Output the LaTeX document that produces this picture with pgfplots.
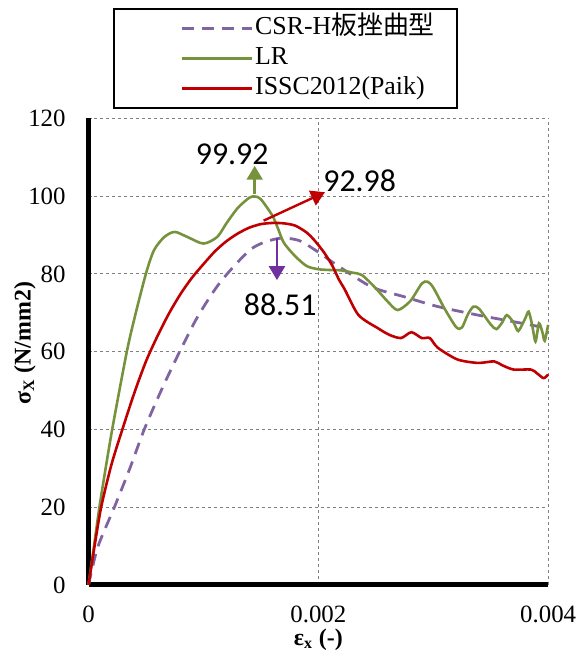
\documentclass[border=0pt]{standalone}
\usepackage{fontspec}
\setmainfont{Liberation Serif}
\newfontfamily\cjk{Noto Sans CJK JP}
\newfontfamily\annot{Carlito}
\usepackage{pgfplots}
\pgfplotsset{compat=1.18}
\usetikzlibrary{arrows.meta}
\definecolor{lrgreen}{RGB}{118,146,60}
\definecolor{isscred}{RGB}{192,0,0}
\definecolor{csrpurple}{RGB}{128,100,162}
\definecolor{arrowpurple}{RGB}{112,48,160}
\begin{document}
\begin{tikzpicture}
\begin{axis}[
  scale only axis, width=231pt, height=234.5pt,
  xmin=0, xmax=0.004, ymin=0, ymax=120,
  xtick={0,0.002,0.004}, ytick={0,20,40,60,80,100,120},
  scaled x ticks=false,
  xticklabel style={/pgf/number format/fixed,/pgf/number format/precision=3, yshift=-7pt},
  yticklabel style={xshift=-8pt},
  /pgf/number format/assume math mode=true,
  tick label style={font=\fontsize{12.5}{14}\selectfont},
  axis x line=bottom, axis y line=left,
  axis line style={-, line width=2.5pt, black},
  major tick length=0pt,
  grid=major,
  grid style={gray, line width=0.5pt, dash pattern=on 1.5pt off 1.5pt},
  xlabel={\bfseries ε\textsubscript{x} (-)},
  ylabel={\bfseries σ\textsubscript{X} (N/mm2)},
  label style={font=\fontsize{12}{14}\selectfont},
  xlabel style={at={(axis description cs:0.5,-0.117)}, anchor=center},
  ylabel style={at={(axis description cs:-0.1385,0.518)}, anchor=center, rotate=0},
  clip=false,
  legend cell align=left,
  legend style={at={(axis description cs:0.0541,1.2367)}, anchor=north west,
    draw=black, line width=1pt, inner xsep=1pt, inner ysep=2.5pt, row sep=0pt,
    font=\fontsize{13}{15}\selectfont,
    nodes={inner sep=1pt, text height=9.5pt, text depth=3.5pt}},
  legend image code/.code={\draw[white, line width=0.1pt, solid] (-33pt,0) -- (0pt,0); \draw[#1] (0pt,0) -- (35pt,0);},
]
\addplot[csrpurple, line width=1.4pt, dash pattern=on 6pt off 4pt, smooth, tension=0.45] coordinates {
(0,0) (0.00008,9.7) (0.000225,20) (0.00036,30) (0.000485,40) (0.00064,50.5)
(0.00079,59.8) (0.00095,69) (0.00115,78) (0.00142,86.5) (0.00165,89.1)
(0.00183,88.6) (0.002,85.6) (0.00214,82.7) (0.00246,76.7) (0.00275,74.1)
(0.00304,71.6) (0.00339,69.4) (0.0037,67.7) (0.004,66)
};
\addlegendentry{CSR-H{\cjk 板挫曲型}\hspace*{9pt}}
\addplot[lrgreen, line width=1.3pt, smooth, tension=0.45] coordinates {
(0,0) (0.00005,10.5) (0.0001,21) (0.0002,39) (0.00033,59.5) (0.0004,68.6)
(0.0005,80.1) (0.00057,86.1) (0.00066,89.5) (0.00075,90.8) (0.00086,89.5)
(0.001,87.8) (0.00112,89.5) (0.0012,93) (0.0013,97) (0.0014,99.6) (0.00145,99.9)
(0.0015,99.2) (0.0016,95) (0.00165,91.6) (0.0017,88) (0.0018,84.5) (0.0019,82)
(0.002,81.2) (0.0021,81) (0.0022,80.9) (0.0023,80.3) (0.00238,79.7)
(0.0025,76.3) (0.0026,73) (0.00269,70.7) (0.0028,73) (0.0029,77.5)
(0.00295,78) (0.003,76.5) (0.0031,71) (0.0032,66.3) (0.00325,66.2)
(0.0033,69.5) (0.00335,71.6) (0.0034,71) (0.0035,67) (0.00355,65.8)
(0.0036,67.5) (0.00364,69.4) (0.0037,67.5) (0.00374,65.3) (0.0038,68.5)
(0.00383,70.3) (0.00386,67) (0.00389,62.6) (0.00392,67.3) (0.00395,65)
(0.00397,62.8) (0.004,66.9)
};
\addlegendentry{LR}
\addplot[isscred, line width=1.3pt, smooth, tension=0.45] coordinates {
(0,0) (0.00005,9.5) (0.00011,20) (0.0002,31) (0.0003,40.5) (0.0004,49.5)
(0.0005,57.5) (0.0006,64) (0.0007,69.8) (0.0008,74.8) (0.0009,79)
(0.001,82.5) (0.0011,85.8) (0.0012,88.4) (0.0013,90.4) (0.0014,91.9)
(0.0015,92.8) (0.0016,93.1) (0.0017,93) (0.0018,92.4) (0.0019,90.6)
(0.00197,88.5) (0.00205,85.5) (0.00212,82.2) (0.00218,78.5) (0.00223,76)
(0.00235,69.4) (0.00252,66) (0.00262,64.3) (0.00272,63.5) (0.00281,65)
(0.0029,63.5) (0.00297,63.5) (0.00304,61) (0.00321,58) (0.00339,57.1)
(0.00353,57.5) (0.0036,56.5) (0.0037,55.4) (0.00385,55.4) (0.0039,54.5)
(0.00396,53.2) (0.004,54.1)
};
\addlegendentry{ISSC2012(Paik)}
% annotations
\draw[lrgreen, line width=1.2pt, -{Triangle[width=8pt,length=7pt]}] (axis cs:0.001446,100.6) -- (axis cs:0.001446,107.8);
\draw[isscred, line width=1.2pt, -{Triangle[width=8pt,length=7pt]}] (axis cs:0.001524,93.7) -- (axis cs:0.002058,101);
\draw[arrowpurple, line width=1.2pt, -{Triangle[width=8pt,length=7pt]}] (axis cs:0.00164,89.2) -- (axis cs:0.00164,78.4);
\node[font=\annot\fontsize{16}{18}\selectfont] at (axis cs:0.00125,110.8) {99.92};
\node[font=\annot\fontsize{16}{18}\selectfont] at (axis cs:0.00236,104) {92.98};
\node[font=\annot\fontsize{16}{18}\selectfont] at (axis cs:0.001668,72) {88.51};
\path (axis description cs:-0.1926,-0.1471) rectangle (axis description cs:1.0671,1.2537);
\end{axis}
\end{tikzpicture}
\end{document}
